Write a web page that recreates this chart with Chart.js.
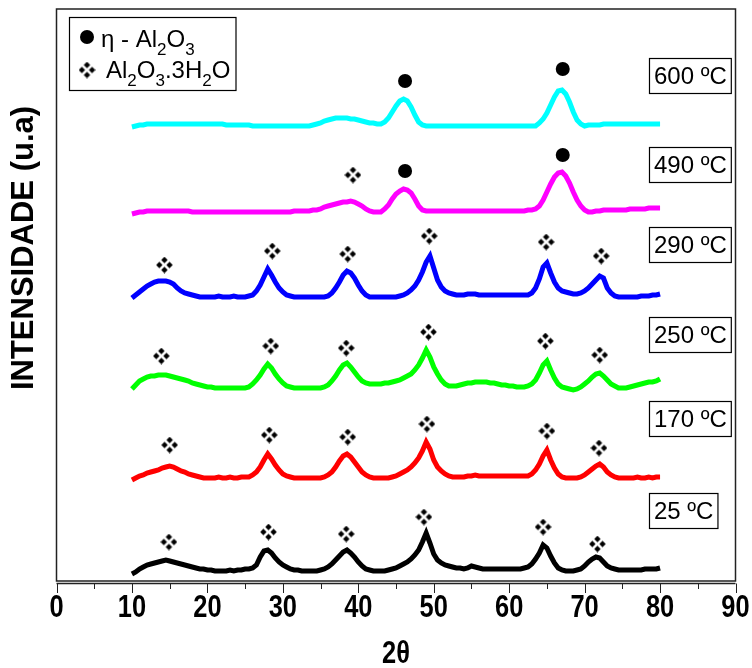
<!DOCTYPE html>
<html>
<head>
<meta charset="utf-8">
<script src="https://cdn.jsdelivr.net/npm/chart.js@4.4.0/dist/chart.umd.min.js"></script>
<style>
  html, body { margin: 0; padding: 0; background: #fff; }
  #wrap { width: 752px; height: 668px; }
</style>
</head>
<body>
<div id="wrap"><canvas id="xrd"></canvas></div>
<script>
// grelha 2θ (graus), passo 0.5
const twoTheta = [];
for (let t = 10; t <= 80; t += 0.5) twoTheta.push(t);

// intensidades (u.a), linhas de 5° cada
const i25 = [
  7, 9, 12, 14, 16, 17, 18, 19, 20, 21,
  20, 19, 18, 17, 16, 15, 14, 13, 12, 12,
  11, 11, 10, 10, 10, 10, 11, 10, 11, 11,
  12, 12, 13, 16, 24, 30, 31, 28, 23, 19,
  16, 14, 12, 11, 11, 10, 10, 10, 10, 10,
  11, 12, 14, 17, 21, 25, 29, 31, 28, 24,
  19, 15, 12, 11, 10, 10, 10, 10, 11, 12,
  13, 15, 17, 19, 22, 26, 31, 39, 48, 38,
  27, 21, 18, 16, 15, 14, 13, 13, 12, 13,
  15, 14, 13, 12, 12, 12, 12, 12, 12, 12,
  12, 12, 12, 12, 13, 14, 17, 22, 28, 36,
  33, 25, 18, 13, 11, 10, 10, 10, 11, 12,
  15, 19, 22, 24, 23, 19, 15, 13, 12, 11,
  11, 11, 11, 11, 11, 11, 12, 12, 12, 12,
  13
];
const i170 = [
  7, 9, 11, 12, 14, 15, 16, 17, 19, 20,
  21, 20, 18, 16, 15, 13, 12, 11, 10, 9,
  9, 9, 9, 10, 9, 9, 10, 9, 9, 10,
  10, 10, 12, 15, 20, 27, 33, 28, 22, 17,
  13, 11, 10, 9, 9, 9, 9, 9, 9, 9,
  9, 10, 12, 15, 20, 26, 31, 33, 30, 25,
  20, 15, 12, 10, 9, 9, 9, 9, 9, 10,
  11, 13, 15, 17, 20, 24, 29, 36, 45, 38,
  27, 20, 16, 13, 11, 10, 10, 10, 10, 11,
  11, 12, 11, 11, 11, 11, 11, 11, 11, 11,
  11, 11, 11, 11, 11, 11, 13, 17, 23, 31,
  37, 27, 19, 13, 10, 9, 9, 9, 9, 10,
  12, 15, 18, 21, 23, 20, 15, 12, 10, 9,
  9, 9, 9, 9, 10, 9, 9, 10, 9, 10,
  10
];
const i250 = [
  9, 13, 17, 19, 21, 22, 22, 23, 23, 23,
  22, 21, 20, 19, 18, 17, 15, 14, 13, 12,
  11, 11, 10, 10, 10, 10, 10, 10, 10, 10,
  10, 11, 14, 18, 23, 29, 34, 30, 24, 19,
  15, 12, 11, 10, 10, 10, 10, 10, 10, 10,
  10, 11, 13, 17, 22, 28, 33, 35, 31, 26,
  21, 17, 15, 14, 14, 14, 14, 15, 15, 16,
  17, 18, 20, 22, 24, 28, 33, 40, 48, 41,
  31, 24, 18, 14, 12, 12, 12, 13, 14, 15,
  15, 16, 16, 16, 16, 15, 15, 14, 13, 13,
  12, 12, 11, 11, 11, 12, 14, 18, 25, 33,
  37, 28, 20, 14, 11, 10, 9, 8, 9, 11,
  14, 17, 21, 24, 25, 22, 18, 14, 12, 10,
  10, 10, 11, 12, 13, 14, 15, 16, 16, 17,
  19
];
const i290 = [
  8, 11, 14, 17, 20, 22, 24, 25, 25, 25,
  24, 22, 18, 15, 13, 12, 11, 10, 9, 9,
  9, 9, 9, 10, 9, 9, 9, 10, 9, 9,
  9, 10, 11, 15, 21, 29, 37, 31, 24, 18,
  14, 11, 10, 9, 9, 9, 9, 9, 9, 9,
  9, 9, 10, 13, 18, 24, 31, 35, 33, 28,
  21, 15, 11, 9, 9, 9, 9, 9, 9, 9,
  9, 10, 11, 13, 16, 20, 26, 34, 44, 50,
  38, 26, 19, 15, 13, 12, 11, 11, 11, 12,
  12, 12, 11, 11, 11, 11, 11, 11, 11, 11,
  11, 11, 11, 11, 11, 11, 13, 18, 27, 39,
  43, 33, 24, 18, 15, 14, 13, 12, 12, 13,
  15, 18, 22, 26, 30, 28, 18, 13, 10, 9,
  9, 9, 9, 9, 9, 10, 10, 10, 11, 11,
  12
];
const i490 = [
  8, 9, 10, 10, 11, 11, 11, 11, 11, 11,
  11, 11, 11, 11, 11, 11, 10, 10, 10, 10,
  10, 10, 10, 10, 10, 10, 10, 10, 10, 10,
  10, 10, 10, 10, 10, 10, 10, 10, 10, 10,
  10, 10, 10, 11, 11, 11, 11, 11, 12, 12,
  13, 15, 16, 17, 18, 19, 20, 20, 21, 20,
  18, 16, 13, 11, 10, 10, 10, 13, 17, 23,
  28, 31, 33, 32, 29, 23, 16, 12, 11, 11,
  11, 11, 11, 11, 11, 11, 11, 11, 11, 11,
  11, 11, 11, 11, 11, 11, 11, 11, 11, 11,
  11, 11, 11, 11, 11, 12, 12, 13, 16, 22,
  30, 38, 45, 49, 50, 46, 39, 30, 22, 16,
  12, 10, 10, 11, 11, 12, 12, 12, 12, 12,
  12, 12, 13, 13, 13, 13, 13, 14, 14, 14,
  14
];
const i600 = [
  9, 10, 11, 11, 12, 12, 12, 12, 12, 12,
  12, 12, 12, 12, 12, 12, 12, 12, 12, 12,
  12, 12, 12, 12, 12, 11, 11, 11, 11, 11,
  11, 11, 10, 10, 10, 10, 10, 10, 10, 10,
  10, 10, 10, 10, 10, 10, 10, 10, 11, 12,
  13, 15, 16, 17, 18, 18, 18, 18, 17, 17,
  16, 15, 14, 13, 13, 12, 12, 14, 18, 24,
  30, 35, 37, 35, 29, 21, 14, 11, 10, 10,
  10, 10, 10, 10, 10, 10, 10, 10, 10, 10,
  10, 10, 10, 10, 10, 10, 10, 10, 10, 10,
  10, 10, 10, 10, 10, 10, 10, 10, 13, 17,
  23, 31, 39, 45, 46, 42, 34, 24, 16, 12,
  10, 11, 11, 11, 11, 12, 12, 12, 12, 12,
  12, 12, 12, 12, 12, 12, 12, 12, 12, 12,
  12
];

// deslocamento vertical de cada curva (empilhamento)
const temps = ['25 ºC', '170 ºC', '250 ºC', '290 ºC', '490 ºC', '600 ºC'];
const series = [i25, i170, i250, i290, i490, i600];
const offsets = [0, 94, 183, 275, 359, 445];
const colors = ['#000000', '#ff0000', '#00ff00', '#0000ff', '#ff00ff', '#00ffff'];

// posição vertical das caixas de temperatura (mesma ordem)
const tempLabelY = [70, 162, 246, 336, 416, 505];
const tempLabelX = 78.6;

// marcadores de fase: ● η-Al2O3 e ❖ Al2O3.3H2O
const etaX = [46.2, 67.1, 46.2, 67.1];
const etaY = [500, 512, 410, 426];
const hydX = [14.9, 28.1, 38.4, 48.7, 64.5, 71.7,
              15.0, 28.2, 38.6, 49.1, 65.0, 71.9,
              13.9, 28.4, 38.4, 49.3, 64.8, 72.0,
              14.3, 28.6, 38.6, 49.4, 64.9, 72.2,
              39.3];
const hydY = [39, 49, 47, 64, 54, 37,
              136, 146, 144, 157, 150, 133,
              225, 235, 233, 249, 240, 226,
              316, 330, 327, 345, 339, 325,
              406];

// desenha o símbolo ❖ (quatro losangos)
function makeCluster(size) {
    const c = document.createElement('canvas');
    c.width = size; c.height = size;
    const g = c.getContext('2d');
    const h = size / 2, r = size * 0.2, d = size * 0.19;
    g.fillStyle = '#000';
    [[h, r], [r, h], [size - r, h], [h, size - r]].forEach(function(p) {
        g.beginPath();
        g.moveTo(p[0], p[1] - d);
        g.lineTo(p[0] + d, p[1]);
        g.lineTo(p[0], p[1] + d);
        g.lineTo(p[0] - d, p[1]);
        g.closePath();
        g.fill();
    });
    return c;
}
const clusterImg = makeCluster(17);

const datasets = series.map(function(vals, k) {
    return {
        label: temps[k],
        data: vals.map(function(v, i) { return { x: twoTheta[i], y: v + offsets[k] }; }),
        borderColor: colors[k],
        borderWidth: 5,
        pointRadius: 0,
        tension: 0,
        order: 2
    };
});
datasets.push({
    label: 'eta',
    data: etaX.map(function(x, i) { return { x: x, y: etaY[i] }; }),
    showLine: false,
    pointStyle: 'circle',
    pointRadius: 7,
    backgroundColor: '#000',
    borderColor: '#000',
    borderWidth: 0,
    order: 1
});
datasets.push({
    label: 'hyd',
    data: hydX.map(function(x, i) { return { x: x, y: hydY[i] }; }),
    showLine: false,
    pointStyle: clusterImg,
    order: 1
});

const sans = "'Liberation Sans', Arial, sans-serif";

// texto negrito estreito (fonte condensada não instalada)
function narrowText(ctx, txt, x, y, size) {
    ctx.save();
    ctx.translate(x, y);
    ctx.scale(0.82, 1);
    ctx.font = 'bold ' + size + 'px ' + sans;
    ctx.textAlign = 'center';
    ctx.textBaseline = 'middle';
    ctx.fillText(txt, 0, 0);
    ctx.restore();
}

// moldura, marcas do eixo x, legenda, caixas e títulos
const decor = {
    id: 'decor',
    afterDraw: function(chart) {
        const ctx = chart.ctx;
        const a = chart.chartArea;
        const xs = chart.scales.x, ys = chart.scales.y;
        ctx.save();
        ctx.strokeStyle = '#222';
        ctx.lineWidth = 1.5;
        ctx.strokeRect(a.left, a.top, a.right - a.left, a.bottom - a.top);
        ctx.beginPath();
        ctx.moveTo(a.left, a.bottom + 2.5);
        ctx.lineTo(a.right, a.bottom + 2.5);
        ctx.stroke();
        ctx.lineWidth = 1;
        for (let v = 0; v <= 90; v += 5) {
            const px = Math.round(xs.getPixelForValue(v)) + 0.5;
            ctx.beginPath();
            ctx.moveTo(px, a.bottom + 2.5);
            ctx.lineTo(px, a.bottom + (v % 10 === 0 ? 12 : 8));
            ctx.stroke();
        }
        ctx.fillStyle = '#000';
        xs.ticks.forEach(function(t) {
            narrowText(ctx, String(t.value), xs.getPixelForValue(t.value), a.bottom + 27, 31);
        });
        narrowText(ctx, '2θ', (a.left + a.right) / 2, 654, 31);

        // legenda
        ctx.strokeStyle = '#000';
        ctx.lineWidth = 1.2;
        ctx.strokeRect(69.5, 17.5, 166.5, 73);
        ctx.beginPath();
        ctx.arc(87, 37, 7, 0, Math.PI * 2);
        ctx.fill();
        ctx.drawImage(clusterImg, 87 - 8.5, 70 - 8.5);
        function chem(parts, x, y) {
            parts.forEach(function(p) {
                const sub = p[1];
                ctx.font = (sub ? '17px ' : '24px ') + sans;
                ctx.fillText(p[0], x, sub ? y + 8 : y);
                x += ctx.measureText(p[0]).width;
            });
        }
        ctx.textBaseline = 'alphabetic';
        chem([['η - Al', 0], ['2', 1], ['O', 0], ['3', 1]], 101, 47);
        chem([['Al', 0], ['2', 1], ['O', 0], ['3', 1], ['.3H', 0], ['2', 1], ['O', 0]], 106, 78);

        // caixas de temperatura
        ctx.font = '24px ' + sans;
        ctx.textBaseline = 'middle';
        temps.forEach(function(t, k) {
            const x0 = xs.getPixelForValue(tempLabelX);
            const yc = ys.getPixelForValue(tempLabelY[k]);
            const w = ctx.measureText(t).width + 9;
            ctx.strokeRect(x0, yc - 17.5, w, 35);
            ctx.fillText(t, x0 + 4.5, yc + 1);
        });

        // título do eixo y
        ctx.translate(24, 248);
        ctx.rotate(-Math.PI / 2);
        ctx.textAlign = 'center';
        ctx.font = 'bold 31px ' + sans;
        ctx.fillText('INTENSIDADE (u.a)', 0, 0);
        ctx.restore();
    }
};

new Chart(document.getElementById('xrd'), {
    type: 'line',
    data: { datasets: datasets },
    options: {
        responsive: true,
        maintainAspectRatio: false,
        animation: false,
        layout: { padding: { left: 56.5, right: 16.5, top: 9, bottom: 0 } },
        plugins: { legend: { display: false }, tooltip: { enabled: false } },
        scales: {
            x: {
                type: 'linear',
                min: 0,
                max: 90,
                grid: { display: false, drawTicks: false },
                border: { display: false },
                ticks: { stepSize: 10, display: false },
                afterFit: function(scale) {
                    scale.height = 87;
                    scale.paddingLeft = 0;
                    scale.paddingRight = 0;
                }
            },
            y: {
                display: false,
                min: 0,
                max: 572
            }
        }
    },
    plugins: [decor]
});
</script>
</body>
</html>
